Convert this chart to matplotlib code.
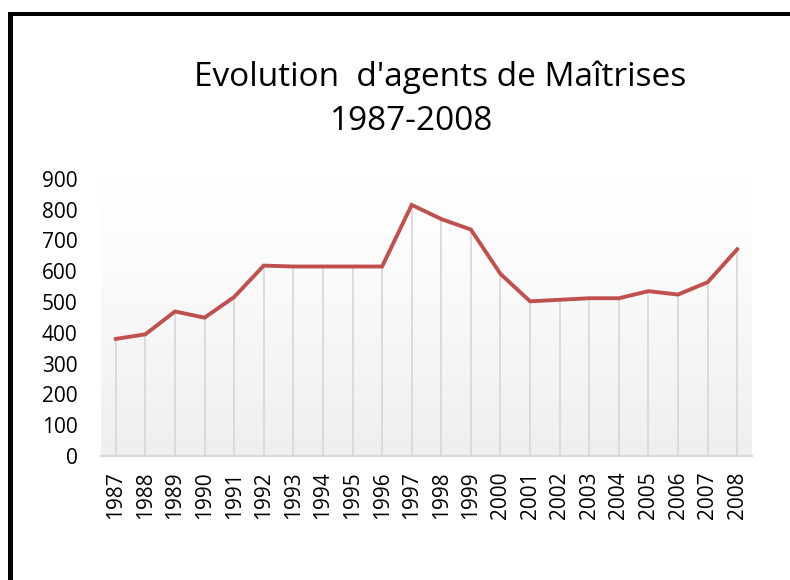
import numpy as np
import matplotlib
matplotlib.use("Agg")
import matplotlib.pyplot as plt
from matplotlib.patches import Rectangle

# data
years = [str(y) for y in range(1987, 2009)]
agents = [380, 395, 469, 449, 516, 618, 615, 615, 615, 615, 815,
          769, 735, 591, 502, 507, 512, 512, 535, 524, 564, 671]
yticks = list(range(0, 1000, 100))

plt.rcParams['font.family'] = ['Open Sans', 'DejaVu Sans']

W, H = 790, 580
fig = plt.figure(figsize=(W / 100, H / 100), dpi=100)
fig.patch.set_facecolor('white')

# black frame on left and top
fig.add_artist(Rectangle((8 / W, 0), 5 / W, 1 - 12 / H, transform=fig.transFigure,
                         color='black', lw=0))
fig.add_artist(Rectangle((8 / W, 1 - 16 / H), 1 - 8 / W, 4 / H, transform=fig.transFigure,
                         color='black', lw=0))

left, right = 101 / W, 752 / W
bottom, top = 1 - 456 / H, 1 - 178.7 / H
ax = fig.add_axes([left, bottom, right - left, top - bottom])

x = np.arange(len(years))
ax.set_xlim(-0.5, len(years) - 0.5)
ax.set_ylim(0, 900)

# gradient plot area
grad = np.linspace(0, 1, 256).reshape(-1, 1)
cmap = matplotlib.colors.LinearSegmentedColormap.from_list(
    'bg', ['#efefef', '#f5f5f5', '#fbfbfb', '#ffffff'])
ax.imshow(grad, aspect='auto', cmap=cmap, origin='lower',
          extent=(-0.5, len(years) - 0.5, 0, 900), zorder=0)

# drop lines
ax.vlines(x, 0, agents, color='#d9d9d9', lw=1.3, zorder=1)
ax.plot(x, agents, color='#c0504d', lw=2.8, solid_joinstyle='miter', zorder=3)

for s in ['top', 'right', 'left']:
    ax.spines[s].set_visible(False)
ax.spines['bottom'].set_color('#d9d9d9')
ax.spines['bottom'].set_linewidth(1.6)

ax.set_yticks(yticks)
ax.set_yticklabels([str(v) for v in yticks], fontsize=15)
ax.set_xticks(x)
ax.set_xticklabels(years, rotation=90, fontsize=15)
ax.tick_params(axis='both', length=0)
ax.tick_params(axis='y', pad=17)
ax.tick_params(axis='x', pad=11)

fig.text(440 / W, 1 - 77 / H, "Evolution  d'agents de Maîtrises",
         ha='center', va='center', fontsize=24)
fig.text(412 / W, 1 - 121 / H, "1987-2008",
         ha='center', va='center', fontsize=24)

fig.savefig('out.png', dpi=100)
